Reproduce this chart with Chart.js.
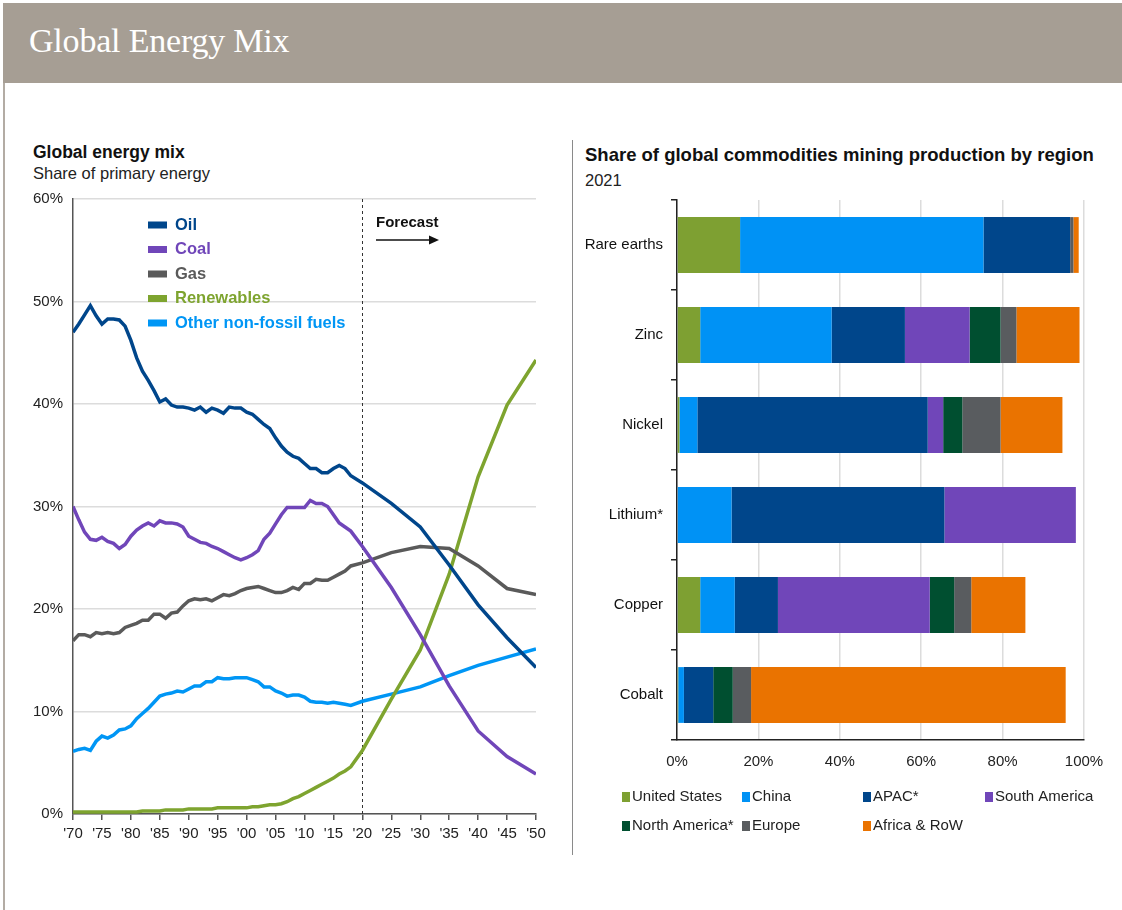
<!DOCTYPE html>
<html lang="en">
<head>
<meta charset="UTF-8">
<title>Global Energy Mix</title>
<script src="https://cdn.jsdelivr.net/npm/chart.js@4.4.7/dist/chart.umd.min.js"></script>
<style>
*{margin:0;padding:0;box-sizing:border-box}
body{width:1122px;height:910px;background:#fff;font-family:"Liberation Sans",Arial,sans-serif;color:#111;position:relative;overflow:hidden}
.band{position:absolute;left:3px;top:3px;width:1119px;height:80px;background:#a69e94}
.band h1{position:absolute;left:26px;top:20px;font-family:"Liberation Serif","DejaVu Serif",serif;font-weight:normal;font-size:34px;line-height:36px;color:#fff;letter-spacing:-0.2px}
.frame{position:absolute;left:3px;top:83px;width:2px;height:827px;background:#b3aca4}
.sep{position:absolute;left:572px;top:140px;width:1px;height:715px;background:#8a8a8a}
.t{position:absolute;font-weight:bold;line-height:20px;color:#111}
.s{position:absolute;font-size:16.5px;line-height:20px;color:#222}
#left{position:absolute;left:20px;top:185px}
#right{position:absolute;left:575px;top:190px}
</style>
</head>
<body>
<div class="band"><h1>Global Energy Mix</h1></div>
<div class="frame"></div>
<div class="sep"></div>
<div class="t" style="left:33px;top:142px;font-size:17.5px">Global energy mix</div>
<div class="s" style="left:33px;top:163px">Share of primary energy</div>
<div class="t" style="left:585px;top:145px;font-size:18.5px">Share of global commodities mining production by region</div>
<div class="s" style="left:585px;top:170px">2021</div>
<canvas id="left" width="530" height="665"></canvas>
<canvas id="right" width="540" height="660"></canvas>
<script>
// left chart: yearly history to 2018, then 5-year forecast
const years = [1970,1971,1972,1973,1974,1975,1976,1977,1978,1979,
  1980,1981,1982,1983,1984,1985,1986,1987,1988,1989,
  1990,1991,1992,1993,1994,1995,1996,1997,1998,1999,
  2000,2001,2002,2003,2004,2005,2006,2007,2008,2009,
  2010,2011,2012,2013,2014,2015,2016,2017,2018,
  2020,2025,2030,2035,2040,2045,2050];
const oil = [47.0,47.8,48.7,49.6,48.6,47.8,48.3,48.3,48.2,47.6,
  46.2,44.5,43.2,42.3,41.3,40.2,40.5,39.9,39.7,39.7,
  39.6,39.4,39.7,39.2,39.6,39.4,39.1,39.7,39.6,39.6,
  39.2,39.0,38.5,38.0,37.6,36.7,35.9,35.3,34.9,34.7,
  34.2,33.7,33.7,33.3,33.3,33.7,34.0,33.7,33.0,
  32.3,30.3,28.0,24.3,20.4,17.2,14.3];
const coal = [30.0,28.7,27.5,26.8,26.7,27.0,26.6,26.4,25.9,26.3,
  27.1,27.7,28.1,28.4,28.1,28.6,28.4,28.4,28.3,28.0,
  27.1,26.8,26.5,26.4,26.1,25.9,25.6,25.3,25.0,24.8,
  25.0,25.3,25.7,26.8,27.4,28.3,29.2,29.9,29.9,29.9,
  29.9,30.6,30.3,30.3,30.0,29.2,28.4,28.0,27.6,
  26.1,22.1,17.5,12.5,8.1,5.6,3.9];
const gas = [16.9,17.5,17.5,17.3,17.7,17.6,17.7,17.6,17.7,18.2,
  18.4,18.6,18.9,18.9,19.5,19.5,19.1,19.6,19.7,20.3,
  20.8,21.0,20.9,21.0,20.8,21.1,21.4,21.3,21.5,21.8,
  22.0,22.1,22.2,22.0,21.8,21.6,21.6,21.8,22.1,21.9,
  22.5,22.5,22.9,22.8,22.8,23.1,23.4,23.7,24.2,
  24.5,25.5,26.1,25.9,24.2,22.0,21.4];
const renewables = [0.2,0.2,0.2,0.2,0.2,0.2,0.2,0.2,0.2,0.2,
  0.2,0.2,0.3,0.3,0.3,0.3,0.4,0.4,0.4,0.4,
  0.5,0.5,0.5,0.5,0.5,0.6,0.6,0.6,0.6,0.6,
  0.6,0.7,0.7,0.8,0.9,0.9,1.0,1.2,1.5,1.7,
  2.0,2.3,2.6,2.9,3.2,3.5,3.9,4.2,4.6,
  6.2,11.2,16.0,23.4,32.9,39.9,44.3];
const otherNonFossil = [6.1,6.3,6.4,6.2,7.1,7.6,7.4,7.7,8.2,8.3,
  8.6,9.3,9.8,10.3,10.9,11.5,11.7,11.8,12.0,11.9,
  12.2,12.5,12.5,12.9,12.9,13.3,13.2,13.2,13.3,13.3,
  13.3,13.1,12.9,12.4,12.4,12.0,11.8,11.5,11.6,11.6,
  11.4,11.0,10.9,10.9,10.8,10.9,10.8,10.7,10.6,
  11.0,11.7,12.4,13.5,14.5,15.3,16.1];
const energyNames = ["Oil","Coal","Gas","Renewables","Other non-fossil fuels"];
const energySeries = [oil, coal, gas, renewables, otherNonFossil];
const energyColors = ["#00468b","#7046b9","#5a5a5a","#7ea42f","#0096f5"];
const forecastStart = 2020;

// right chart
const commodities = ["Rare earths","Zinc","Nickel","Lithium*","Copper","Cobalt"];
const regions = ["United States","China","APAC*","South America","North America*","Europe","Africa & RoW"];
const unitedStates = [15.5,5.7,0.6,0,5.7,0.3];
const china = [59.8,32.3,4.4,13.4,8.5,1.4];
const apac = [21.3,18.0,56.6,52.3,10.6,7.2];
const southAmerica = [0,15.9,3.8,32.3,37.3,0];
const northAmerica = [0,7.6,4.7,0,6.0,4.8];
const europe = [0.8,3.9,9.4,0,4.2,4.5];
const africaRow = [1.3,15.5,15.2,0,13.3,77.3];
const regionSeries = [unitedStates, china, apac, southAmerica, northAmerica, europe, africaRow];
const regionColors = ["#7ea032","#0092f5","#00468b","#7046b9","#004f30","#595c5f","#ea7300"];

const FONT = "'Liberation Sans', Arial, sans-serif";
Chart.defaults.font.family = FONT;
Chart.defaults.color = "#222";

// pin chart areas exactly: drop the label overflow padding Chart.js adds
const fixW = w => s => { s.width = w; s.paddingTop = 0; s.paddingBottom = 0; };
const fixH = h => s => { s.height = h; s.paddingLeft = 0; s.paddingRight = 0; };

const leftExtras = {
  id: "leftExtras",
  beforeDatasetsDraw(chart) {
    const { ctx, chartArea, scales } = chart;
    const x = Math.round(scales.x.getPixelForValue(forecastStart)) + 0.5;
    ctx.save();
    ctx.strokeStyle = "#333";
    ctx.lineWidth = 1;
    ctx.setLineDash([3, 3]);
    ctx.beginPath();
    ctx.moveTo(x, chartArea.top);
    ctx.lineTo(x, chartArea.bottom);
    ctx.stroke();
    ctx.restore();
  },
  afterDraw(chart) {
    const ctx = chart.ctx;
    ctx.save();
    // forecast label + arrow
    ctx.fillStyle = "#111";
    ctx.font = "bold 15px " + FONT;
    ctx.textBaseline = "middle";
    ctx.fillText("Forecast", 356, 38);
    ctx.strokeStyle = "#111";
    ctx.lineWidth = 1.5;
    ctx.beginPath();
    ctx.moveTo(356, 55);
    ctx.lineTo(410, 55);
    ctx.stroke();
    ctx.beginPath();
    ctx.moveTo(419, 55);
    ctx.lineTo(409, 50.5);
    ctx.lineTo(409, 59.5);
    ctx.closePath();
    ctx.fill();
    // legend
    ctx.font = "bold 16.5px " + FONT;
    chart.data.datasets.forEach((ds, i) => {
      const y = 40 + i * 24.5;
      ctx.fillStyle = ds.borderColor;
      ctx.fillRect(128, y - 3.5, 19, 7);
      ctx.fillText(ds.label, 155, y);
    });
    ctx.restore();
  }
};

new Chart(document.getElementById("left"), {
  type: "line",
  data: {
    datasets: energySeries.map((vals, i) => ({
      label: energyNames[i],
      data: years.map((yr, j) => ({ x: yr, y: vals[j] })),
      borderColor: energyColors[i],
      backgroundColor: energyColors[i],
      borderWidth: 3.5,
      pointRadius: 0,
      tension: 0,
      fill: false
    }))
  },
  options: {
    responsive: false,
    animation: false,
    layout: { padding: { left: 0, right: 14, top: 14, bottom: 0 } },
    plugins: { legend: { display: false }, tooltip: { enabled: false } },
    scales: {
      x: {
        type: "linear", min: 1970, max: 2050,
        afterFit: fixH(36),
        grid: { drawOnChartArea: false, drawTicks: true, tickLength: 6, color: "#555", lineWidth: 1.5 },
        border: { color: "#555", width: 1.5 },
        ticks: { stepSize: 5, autoSkip: false, maxRotation: 0, padding: 5, font: { size: 15 }, color: "#222",
          callback: v => "'" + String(v).slice(2) }
      },
      y: {
        min: 0, max: 60,
        afterFit: fixW(53),
        grid: { color: "#dcdcdc", lineWidth: 1.5, drawTicks: false },
        border: { color: "#555", width: 1.5 },
        ticks: { stepSize: 10, padding: 10, font: { size: 15 }, color: "#222", callback: v => v + "%" }
      }
    }
  },
  plugins: [leftExtras]
});

const rightLegend = {
  id: "rightLegend",
  afterDraw(chart) {
    const ctx = chart.ctx;
    const cols = [47, 167, 288, 410];
    const rows = [607, 636];
    ctx.save();
    ctx.font = "15px " + FONT;
    ctx.textBaseline = "middle";
    chart.data.datasets.forEach((ds, i) => {
      const x = cols[i % 4], y = rows[Math.floor(i / 4)];
      ctx.fillStyle = ds.backgroundColor;
      ctx.fillRect(x, y - 5, 8, 10);
      ctx.fillStyle = "#222";
      ctx.fillText(ds.label, x + 10, y);
    });
    ctx.restore();
  }
};

new Chart(document.getElementById("right"), {
  type: "bar",
  data: {
    labels: commodities,
    datasets: regionSeries.map((vals, i) => ({
      label: regions[i],
      data: vals,
      backgroundColor: regionColors[i],
      borderWidth: 0,
      barPercentage: 0.62,
      categoryPercentage: 1
    }))
  },
  options: {
    indexAxis: "y",
    responsive: false,
    animation: false,
    layout: { padding: { left: 0, right: 31, top: 10, bottom: 80 } },
    plugins: { legend: { display: false }, tooltip: { enabled: false } },
    scales: {
      x: {
        stacked: true, min: 0, max: 100,
        afterFit: fixH(30),
        grid: { color: "#dcdcdc", lineWidth: 1.5, drawTicks: false },
        border: { color: "#222", width: 1.5 },
        ticks: { stepSize: 20, padding: 13, font: { size: 15 }, color: "#222", callback: v => v + "%" }
      },
      y: {
        stacked: true,
        afterFit: fixW(102),
        grid: { offset: true, drawOnChartArea: false, drawTicks: true, tickLength: 6, color: "#222", lineWidth: 1.5 },
        border: { color: "#222", width: 1.5 },
        ticks: { padding: 8, font: { size: 15 }, color: "#111" }
      }
    }
  },
  plugins: [rightLegend]
});
</script>
</body>
</html>
